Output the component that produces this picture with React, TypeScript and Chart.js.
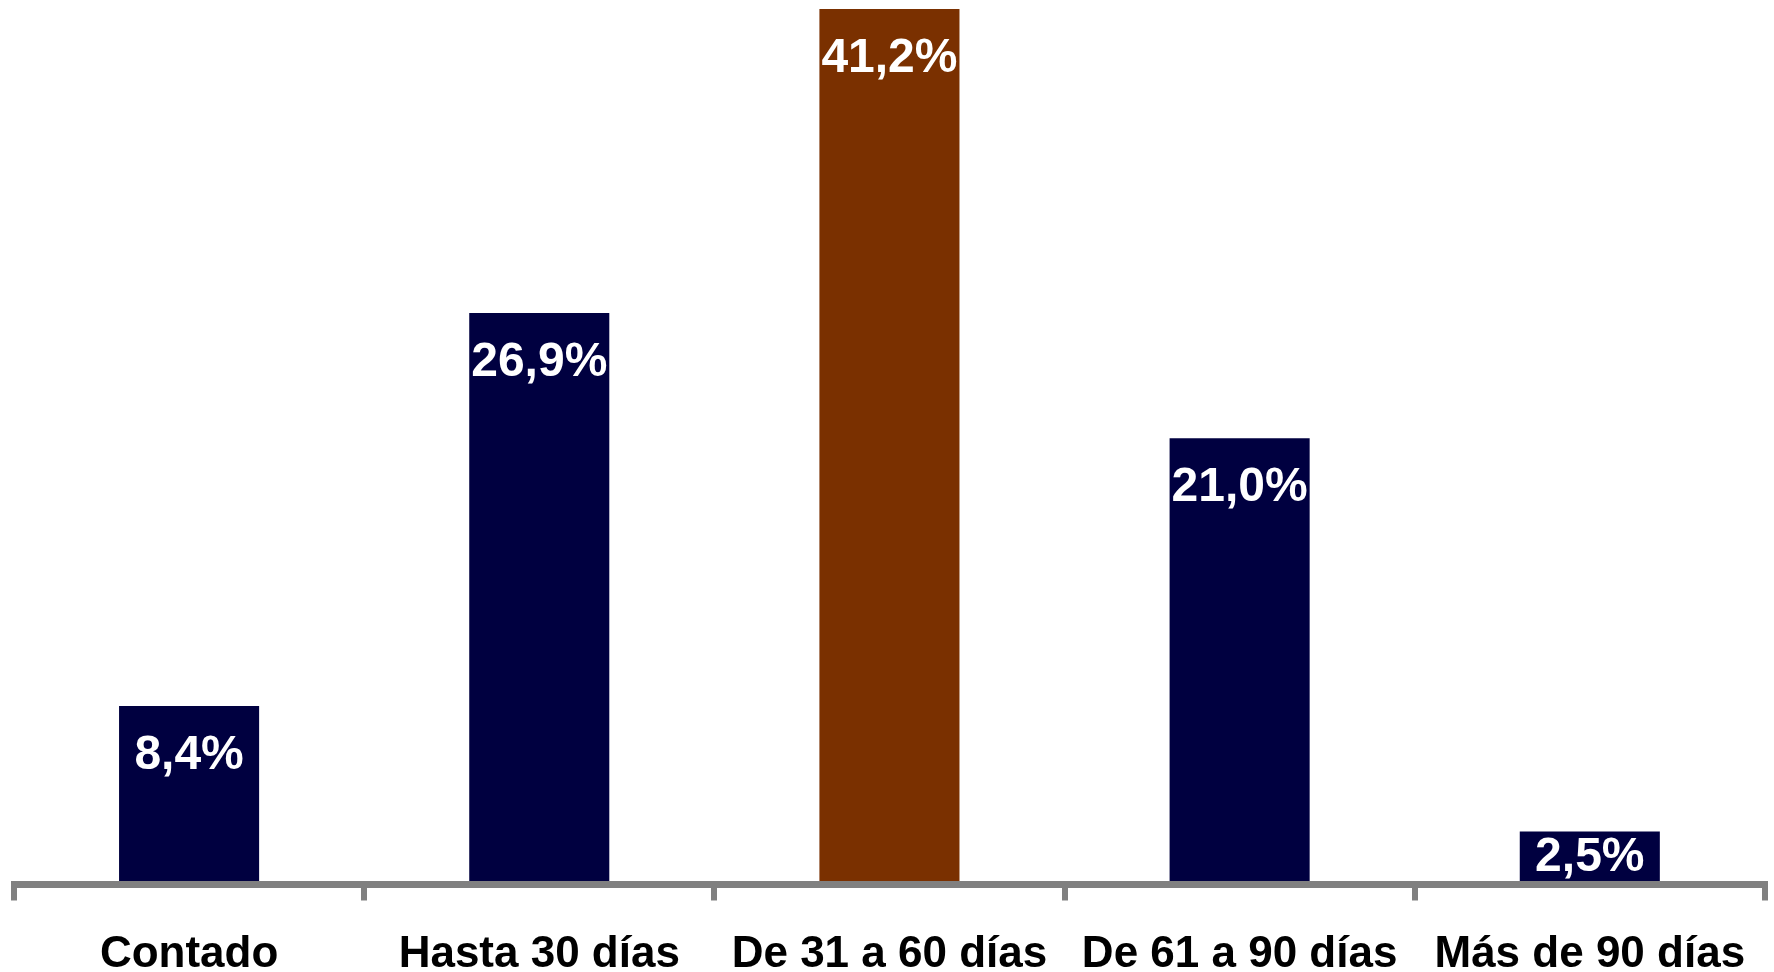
import React, { useEffect, useRef } from "react";
import { Chart, registerables } from "chart.js";

Chart.register(...registerables);

const categories = ["Contado", "Hasta 30 días", "De 31 a 60 días", "De 61 a 90 días", "Más de 90 días"];
const values = [8.4, 26.9, 41.2, 21.0, 2.5];
const valueLabels = ["8,4%", "26,9%", "41,2%", "21,0%", "2,5%"];
const barColors = ["#000040", "#000040", "#7A3000", "#000040", "#000040"];

const FONT = '"Liberation Sans", Arial, sans-serif';

const valueLabelPlugin = {
  id: "valueLabels",
  afterDatasetsDraw(chart: any) {
    const ctx = chart.ctx;
    const meta = chart.getDatasetMeta(0);
    ctx.save();
    ctx.fillStyle = "#ffffff";
    ctx.font = `bold 48px ${FONT}`;
    ctx.textAlign = "center";
    ctx.textBaseline = "middle";
    meta.data.forEach((bar: any, i: number) => {
      const top = bar.y;
      const bottom = bar.base;
      const y = Math.min(top + 50, (top + bottom) / 2);
      ctx.fillText(valueLabels[i], bar.x, y);
    });
    ctx.restore();
  },
};

export default function App() {
  const ref = useRef<HTMLCanvasElement>(null);
  useEffect(() => {
    if (!ref.current) return;
    const chart = new Chart(ref.current, {
      type: "bar",
      data: {
        labels: categories,
        datasets: [
          {
            data: values,
            backgroundColor: barColors,
            borderWidth: 0,
            barPercentage: 0.4,
            categoryPercentage: 1,
          },
        ],
      },
      options: {
        animation: false,
        responsive: false,
        maintainAspectRatio: false,
        layout: { padding: { left: 14, right: 9, top: 9, bottom: 0 } },
        plugins: { legend: { display: false }, tooltip: { enabled: false } },
        scales: {
          y: {
            display: false,
            min: 0,
            max: Math.max(...values),
          },
          x: {
            z: 1,
            afterFit(scale: any) {
              scale.height = 87.5;
            },
            border: { display: true, color: "#808080", width: 7, z: 1 },
            grid: {
              display: true,
              offset: true,
              drawOnChartArea: false,
              drawTicks: true,
              tickLength: 16,
              lineWidth: 6,
              tickWidth: 6,
              tickColor: "#808080",
              color: "#808080",
              z: 1,
            },
            ticks: {
              color: "#000000",
              padding: 28,
              maxRotation: 0,
              autoSkip: false,
              font: { family: FONT, size: 44, weight: "bold", lineHeight: 1.2 },
            },
          },
        },
      },
      plugins: [valueLabelPlugin],
    });
    return () => chart.destroy();
  }, []);
  return (
    <div style={{ position: "absolute", left: 0, top: 0, width: 1774, height: 972, overflow: "hidden" }}>
      <canvas ref={ref} width={1774} height={972} style={{ display: "block", width: 1774, height: 972 }} />
    </div>
  );
}
